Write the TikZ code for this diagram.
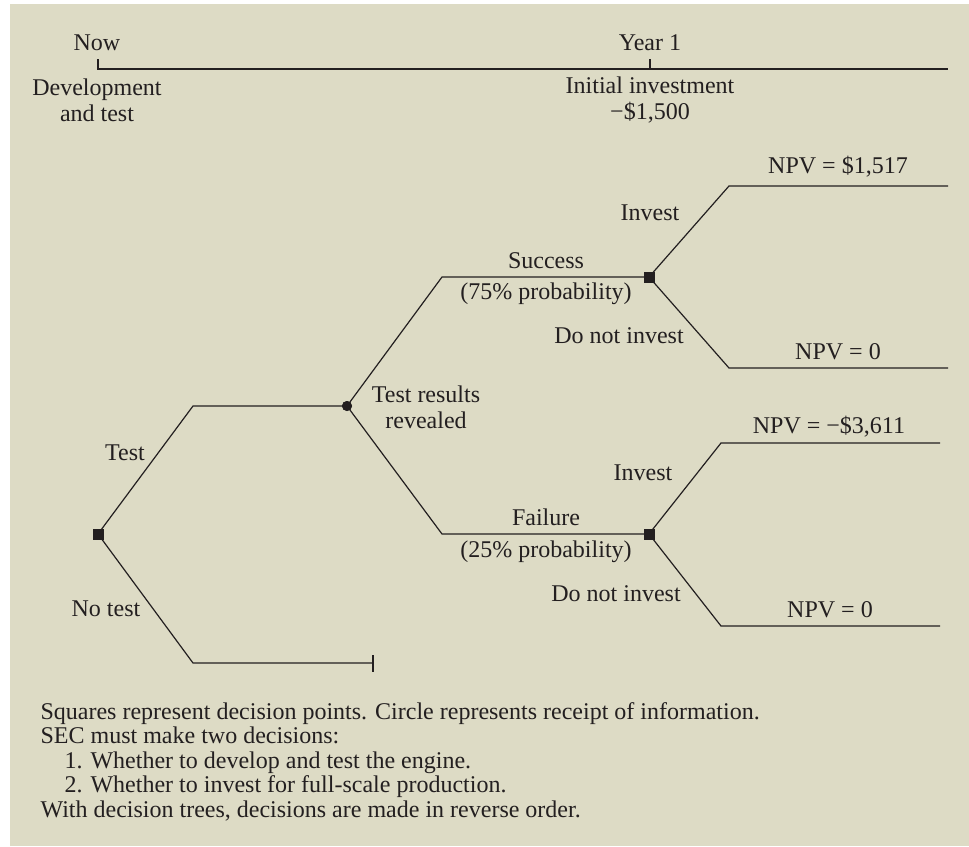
\documentclass[tikz,border=0pt]{standalone}
\usepackage{fontspec}
\setmainfont{Liberation Serif}
\usepackage{xcolor}
\usetikzlibrary{positioning, calc}
\definecolor{panel}{RGB}{221,219,197}
\definecolor{ink}{RGB}{35,31,32}

\begin{document}
\begin{tikzpicture}[x=0.5pt, y=-0.5pt, line width=0.6pt,
  decision/.style={rectangle, fill=ink, minimum size=5.5pt, inner sep=0pt},
  chance/.style={circle, fill=ink, minimum size=5pt, inner sep=0pt},
  lbl/.style={text=ink, font=\fontsize{12}{13}\selectfont, inner sep=0pt, align=center},
  note/.style={text=ink, font=\fontsize{12}{13}\selectfont, inner sep=0pt, anchor=base west},
  branch/.style={draw=ink, line width=0.6pt}]

  % ==========================================
  % Background panel
  % ==========================================
  \useasboundingbox (0,0) rectangle (969,846);
  \fill[panel] (10,4) rectangle (969,846);

  % ==========================================
  % Time line (Now / Year 1)
  % ==========================================
  \coordinate (now) at (98,69);
  \coordinate (year1) at (650,69);
  \coordinate (tl-end) at (948,69);
  \draw[branch] ($(now)+(0,-10)$) -- (now) -- (tl-end);
  \draw[branch] (year1) -- ++(0,-10);

  \node[lbl] (now-lbl) at (97,43) {Now};
  \node[lbl] (year1-lbl) at (650,43) {Year 1};
  \node[lbl] (dev-lbl) at (97,100) {Development\\and test};
  \node[lbl] (inv-lbl) at (650,100) {Initial investment\\−\$1,500};

  % ==========================================
  % Decision tree nodes
  % ==========================================
  \node[decision] (root) at (98,534) {};
  \node[chance] (reveal) at (347,406) {};
  \node[decision] (succ) at (649,277) {};
  \node[decision] (fail) at (649,534) {};

  % bends and free ends
  \coordinate (test-bend) at (193,406);
  \coordinate (notest-bend) at (193,663);
  \coordinate (notest-end) at (373,663);
  \coordinate (succ-bend) at (442,277);
  \coordinate (fail-bend) at (442,534);
  \coordinate (si-bend) at (729,186);
  \coordinate (si-end) at (948,186);
  \coordinate (sn-bend) at (729,368);
  \coordinate (sn-end) at (948,368);
  \coordinate (fi-bend) at (721,443);
  \coordinate (fi-end) at (940,443);
  \coordinate (fn-bend) at (721,626);
  \coordinate (fn-end) at (940,626);

  % branches
  \draw[branch] (root.center) -- (test-bend) -- (reveal.center);
  \draw[branch] (root.center) -- (notest-bend) -- (notest-end);
  \draw[branch] ($(notest-end)+(0,-8)$) -- ($(notest-end)+(0,9)$);
  \draw[branch] (reveal.center) -- (succ-bend) -- (succ.center);
  \draw[branch] (reveal.center) -- (fail-bend) -- (fail.center);
  \draw[branch] (succ.center) -- (si-bend) -- (si-end);
  \draw[branch] (succ.center) -- (sn-bend) -- (sn-end);
  \draw[branch] (fail.center) -- (fi-bend) -- (fi-end);
  \draw[branch] (fail.center) -- (fn-bend) -- (fn-end);

  % redraw markers on top
  \node[decision] at (root) {};
  \node[chance] at (reveal) {};
  \node[decision] at (succ) {};
  \node[decision] at (fail) {};

  % ==========================================
  % Branch labels
  % ==========================================
  \node[lbl] (test-lbl) at (125,453) {Test};
  \node[lbl] (notest-lbl) at (106,609) {No test};
  \node[lbl] (reveal-lbl) at (426,407) {Test results\\revealed};
  \node[lbl] (succ-lbl) at (546,261) {Success};
  \node[lbl] (succ-prob) at (546,294) {(75\% probability)};
  \node[lbl] (fail-lbl) at (546,517) {Failure};
  \node[lbl] (fail-prob) at (546,552) {(25\% probability)};
  \node[lbl] (si-lbl) at (650,213) {Invest};
  \node[lbl] (sn-lbl) at (619,336) {Do not invest};
  \node[lbl] (fi-lbl) at (643,473) {Invest};
  \node[lbl] (fn-lbl) at (616,594) {Do not invest};
  \node[lbl] (si-npv) at (838,167) {NPV = \$1,517};
  \node[lbl] (sn-npv) at (838,352) {NPV = 0};
  \node[lbl] (fi-npv) at (829,427) {NPV = −\$3,611};
  \node[lbl] (fn-npv) at (830,610) {NPV = 0};

  % ==========================================
  % Notes below the tree
  % ==========================================
  \node[note] (note1) at (40,719) {Squares represent decision points. Circle represents receipt of information.};
  \node[note] (note2) at (40,743.5) {SEC must make two decisions:};
  \node[note] (note3) at (64,768) {1. Whether to develop and test the engine.};
  \node[note] (note4) at (64,792.5) {2. Whether to invest for full-scale production.};
  \node[note] (note5) at (40,817) {With decision trees, decisions are made in reverse order.};

\end{tikzpicture}
\end{document}
